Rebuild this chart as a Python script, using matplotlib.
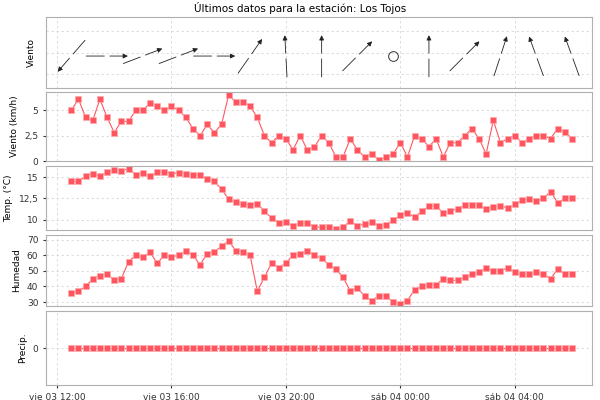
import matplotlib
matplotlib.use("Agg")
import matplotlib.pyplot as plt
import numpy as np

# hours after vie 03 12:00, every 15 min from 12:30
start_h = 0.5
step_h = 0.25
viento = [5.0,6.1,4.3,4.0,6.1,4.3,2.8,3.9,3.9,5.0,5.0,5.7,5.4,5.0,5.4,5.0,4.3,3.2,2.5,3.6,2.8,3.6,6.5,5.8,5.8,5.4,4.3,2.5,1.8,2.5,2.2,1.1,2.5,
          1.1,1.4,2.5,1.8,0.4,0.4,2.2,1.1,0.4,0.7,0.1,0.4,0.7,1.8,0.4,2.5,2.2,1.4,2.2,0.4,1.8,1.8,2.5,3.2,2.2,0.7,4.0,1.8,2.2,2.5,1.8,2.2,2.5,2.5,2.2,3.2,2.9,2.2]
temp = [14.5,14.5,15.1,15.4,15.1,15.6,15.8,15.7,16.0,15.3,15.5,15.1,15.6,15.6,15.4,15.5,15.4,15.3,15.2,14.8,14.5,13.6,12.4,12.1,11.9,11.7,11.9,11.0,10.2,9.6,9.7,9.3,9.6,
        9.6,9.2,9.1,9.2,8.9,9.1,9.9,9.3,9.5,9.7,9.3,9.4,10.0,10.5,10.8,10.3,11.0,11.6,11.6,10.8,11.0,11.3,11.7,11.7,11.7,11.3,11.5,11.6,11.4,11.8,12.3,12.4,12.2,12.5,13.3,12.0,12.5,12.6]
humedad = [36,37,40,45,47,48,44,45,56,60,59,62,55,60,59,60,63,60,54,61,62,66,69,63,62,60,37,46,55,52,55,60,61,63,60,58,54,51,46,37,
           39,34,31,34,34,30,29,31,38,40,41,41,45,44,44,46,48,49,52,50,50,52,49,48,48,49,48,45,51,48,48]
precip = [0]*71
# wind direction arrows (angle the arrow points to, degrees; None = calm)
arrow_h = [0.5,1.75,3.0,4.25,5.5,6.75,8.0,9.25,10.5,11.75,13.0,14.25,15.5,16.75,18.0]
arrow_ang = [229,0,21,21,0,55,93,90,45,None,90,45,72,110,110]

tick_h = [0,4,8,12,16]
tick_labels = ["vie 03 12:00","vie 03 16:00","vie 03 20:00","sáb 04 00:00","sáb 04 04:00"]

n = len(humedad)
t = start_h + step_h*np.arange(n)

fig = plt.figure(figsize=(6,4), dpi=100)
plt.rcParams['font.family'] = ['DejaVu Sans']
fs = 6.5
col = '#ff5560'
pos = [(17,88),(92,161),(166,230),(235,306),(311,385)]
axes = []
for (top, bot) in pos:
    ax = fig.add_axes([46/600, 1-bot/400, 546/600, (bot-top)/400])
    ax.set_xlim(-0.385, 18.7)
    ax.set_xticks(tick_h)
    ax.tick_params(labelsize=fs, length=2, colors='#333333')
    ax.grid(True, color='#d8d8d8', linestyle=(0,(3,3)), linewidth=0.6)
    for s in ax.spines.values():
        s.set_color('#b0b0b0')
    axes.append(ax)
for ax in axes[:-1]:
    ax.set_xticklabels([])
    ax.tick_params(axis='x', length=0)
axes[-1].set_xticklabels(tick_labels)

fig.suptitle("Últimos datos para la estación: Los Tojos", fontsize=7.5, y=0.995)

a0 = axes[0]
a0.set_ylim(-1, 1)
a0.set_yticks([-0.6, 0, 0.6])
a0.set_yticklabels([])
a0.tick_params(axis='y', length=0)
a0.set_ylabel("Viento", fontsize=fs)
L = 17
for h, ang in zip(arrow_h, arrow_ang):
    if ang is None:
        a0.plot([h], [-0.1], 'o', mfc='none', mec='#333333', ms=7, mew=0.7)
        continue
    dx = L*np.cos(np.radians(ang)); dy = L*np.sin(np.radians(ang))
    a0.annotate("", xy=(h, -0.1), xytext=(dx, dy), textcoords='offset points',
                arrowprops=dict(arrowstyle='<|-', color='#222222', lw=0.6, mutation_scale=7))
    a0.annotate("", xy=(h, -0.1), xytext=(-dx, -dy), textcoords='offset points',
                arrowprops=dict(arrowstyle='-', color='#222222', lw=0.6))

def fmt(v):
    return ("%g" % v).replace('.', ',')

def series(ax, y, ylim, ticks, label):
    ax.plot(t, y, color=col, lw=0.8, marker='s', ms=4.2, mfc=col, mec='#ffaaaa', mew=0.5)
    ax.set_ylim(*ylim)
    ax.set_yticks(ticks)
    ax.set_yticklabels([fmt(v) for v in ticks])
    ax.set_ylabel(label, fontsize=fs)

series(axes[1], viento, (0, 6.8), [0, 2.5, 5], "Viento (km/h)")
series(axes[2], temp, (8.8, 16.3), [10, 12.5, 15], "Temp. (°C)")
series(axes[3], humedad, (27.5, 73), [30, 40, 50, 60, 70], "Humedad")
series(axes[4], precip, (-1, 1), [0], "Precip.")

fig.savefig("out.png", dpi=100)
